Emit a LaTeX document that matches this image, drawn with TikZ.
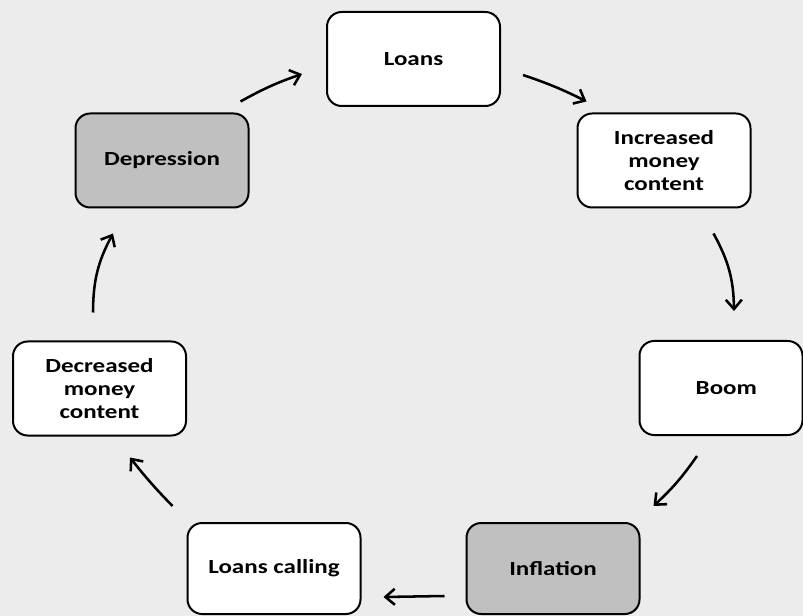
\documentclass[tikz,border=0pt]{standalone}
\usepackage{fontspec}
\setmainfont{Carlito}[FakeStretch=1.25]
\usetikzlibrary{arrows.meta}
\definecolor{bgc}{HTML}{EDECEC}
\definecolor{grayfill}{HTML}{C0C0C0}
\tikzset{
  x=0.75pt, y=-0.75pt,
  stagebox/.style={draw=black, line width=1.5pt, rounded corners=11pt, fill=white,
    minimum width=129.75pt, minimum height=70.5pt, inner sep=0pt, align=center,
    font=\bfseries\fontsize{15}{17.25}\selectfont},
  darkbox/.style={stagebox, fill=grayfill},
  arr/.style={line width=1.9pt, -{Straight Barb[length=7pt, width=12pt, line width=1.9pt]}},
}
\begin{document}
\begin{tikzpicture}
\fill[bgc] (0,0) rectangle (803,616);
\useasboundingbox (0,0) rectangle (803,616);

\node[stagebox] (loans) at (413.5,59) {Loans};
\node[stagebox] (inc) at (664,160.5) {Increased\\money\\content};
\node[stagebox, minimum width=122.25pt] (boom) at (721,388) {\hspace*{8pt}Boom};
\node[darkbox, minimum height=68.25pt] (inf) at (553,568.5) {Inflation};
\node[stagebox, minimum height=68.25pt] (lc) at (274,568.5) {Loans calling};
\node[stagebox] (dec) at (99.5,388.5) {Decreased\\money\\content};
\node[darkbox] (dep) at (162,160.5) {Depression};

\draw[arr] ([shift={(-9,-11)}]dep.north east) to[bend left=5] ([shift={(-24,15)}]loans.west);
\draw[arr] ([shift={(22,16)}]loans.east) to[bend left=4] ([shift={(10,-11)}]inc.north west);
\draw[arr] ([shift={(-38,25)}]inc.south east) to[bend left=14] ([shift={(13,-29)}]boom.north);
\draw[arr] ([shift={(-24,20)}]boom.south) to[bend left=6] ([shift={(13,-16)}]inf.north east);
\draw[arr] ([shift={(-21,27.5)}]inf.west) -- ([shift={(22,28.5)}]lc.east);
\draw[arr] ([shift={(-14,-16)}]lc.north west) to[bend left=3] ([shift={(30.5,21)}]dec.south);
\draw[arr] ([shift={(-6.5,-28)}]dec.north) to[bend left=14] ([shift={(-49,25)}]dep.south);
\end{tikzpicture}
\end{document}
